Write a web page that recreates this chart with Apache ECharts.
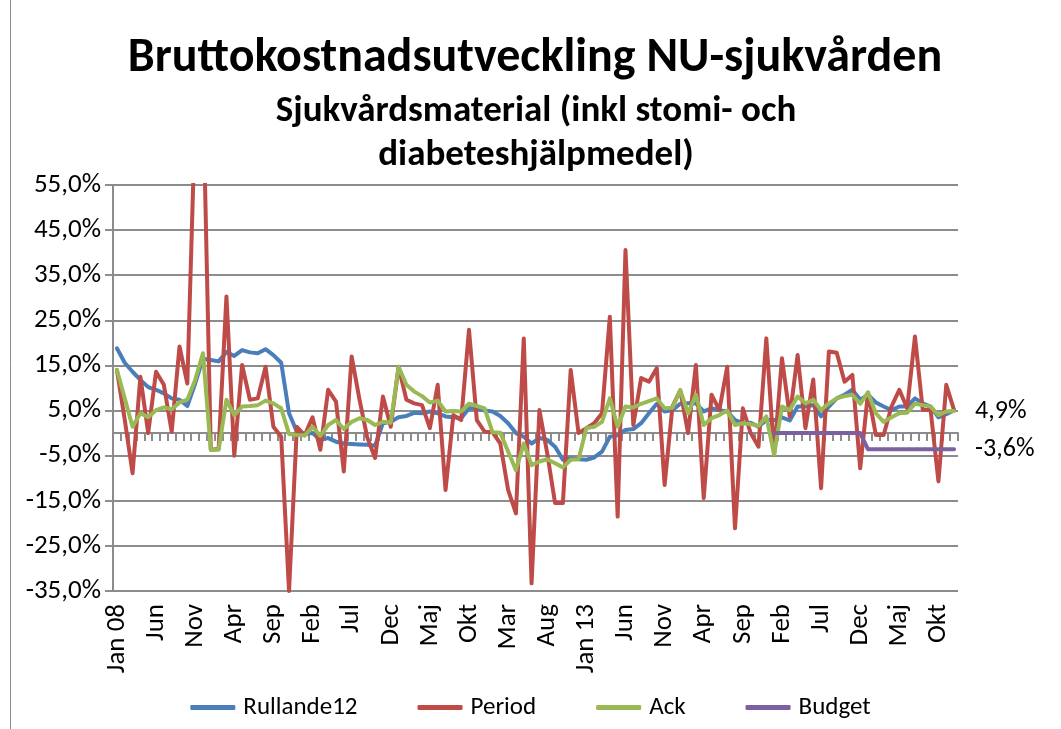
<!DOCTYPE html>
<html>
<head>
<meta charset="utf-8">
<script src="https://cdn.jsdelivr.net/npm/echarts@6/dist/echarts.min.js"></script>
<style>
    html, body { margin: 0; padding: 0; background: #fff; }
    #chart { width: 1061px; height: 729px; }
</style>
</head>
<body>
<div id="chart"></div>
<script>
// Monthly series Jan 2008 - Dec 2016, values in percent
const MONTHS = ['Jan', 'Feb', 'Mar', 'Apr', 'Maj', 'Jun', 'Jul', 'Aug', 'Sep', 'Okt', 'Nov', 'Dec'];
const YEARS = ['08', '09', '10', '11', '12', '13', '14', '15', '16'];

const rullande12 = [
    18.8, 15.6, 13.6, 11.8, 10.2, 9.6, 8.8, 7.7, 7.4, 6.0, 11.0, 16.5,
    16.2, 15.9, 18.0, 17.1, 18.4, 17.9, 17.7, 18.6, 17.3, 15.6, 4.4, 0.3,
    -0.2, 0.0, -1.5, -1.1, -1.9, -2.3, -2.4, -2.5, -2.6, -2.8, 2.2, 2.5,
    3.5, 3.8, 4.5, 4.4, 4.8, 4.4, 3.7, 3.5, 3.3, 5.5, 5.5, 5.0,
    4.8, 3.8, 2.2, 0.0, -0.8, -2.3, -1.1, -1.5, -3.0, -5.9, -5.6, -5.8,
    -5.9, -5.4, -4.1, -0.8, -0.5, 0.7, 0.9, 2.2, 4.4, 6.5, 4.8, 5.1,
    6.5, 6.6, 6.6, 4.8, 5.5, 5.1, 4.8, 2.9, 2.2, 2.3, 1.4, 2.9,
    2.9, 3.5, 2.8, 5.9, 5.9, 6.2, 3.7, 5.9, 7.7, 8.5, 9.6, 7.4,
    8.5, 6.8, 5.9, 5.1, 5.9, 5.9, 7.7, 6.6, 5.9, 3.5, 4.2, 5.1
];

const period = [
    14.0, 3.0, -8.9, 12.5, 0.0, 13.6, 10.7, 0.3, 19.2, 11.0, 70.0, 76.0,
    -3.7, -3.5, 30.3, -5.0, 15.1, 7.4, 7.7, 14.7, 1.4, -0.8, -35.0, 1.4,
    -0.5, 3.5, -3.7, 9.6, 7.0, -8.5, 17.0, 7.5, -1.0, -5.5, 8.1, 1.4,
    14.7, 7.4, 6.6, 6.2, 1.1, 10.7, -12.6, 4.0, 2.9, 22.9, 2.9, 0.3,
    0.2, -2.3, -12.6, -17.8, 21.0, -33.3, 5.1, -4.5, -15.5, -15.5, 14.0, 0.0,
    1.1, 2.2, 4.4, 25.8, -18.5, 40.6, 1.8, 12.2, 11.4, 14.4, -11.5, 5.9,
    9.5, 0.0, 15.1, -14.4, 8.5, 5.1, 14.7, -21.1, 5.5, 0.0, -3.0, 21.0,
    -4.8, 16.6, 3.7, 17.3, 1.1, 11.9, -12.2, 18.1, 17.8, 11.4, 12.9, -7.8,
    9.0, -0.4, -0.4, 5.9, 9.6, 5.5, 21.4, 5.1, 5.1, -10.7, 10.7, 5.1
];

const ack = [
    14.0, 7.7, 1.4, 4.4, 3.5, 5.1, 5.7, 5.3, 6.8, 7.4, 11.8, 17.7,
    -3.7, -3.7, 7.4, 4.0, 5.9, 6.0, 6.2, 7.2, 6.6, 5.5, -0.2, -0.4,
    -0.5, 1.4, -0.6, 1.8, 2.9, 0.9, 2.5, 3.3, 2.9, 1.8, 2.5, 2.3,
    14.7, 10.7, 9.2, 8.2, 6.8, 7.2, 4.8, 4.9, 4.8, 6.5, 6.0, 5.5,
    0.2, 0.1, -4.1, -8.2, -2.3, -7.1, -6.3, -5.8, -6.7, -7.6, -5.9, -5.8,
    1.1, 1.4, 2.5, 7.7, 1.4, 5.9, 5.7, 6.5, 7.1, 7.7, 5.5, 5.6,
    9.5, 4.4, 8.5, 1.8, 3.3, 4.0, 5.0, 1.8, 2.2, 2.0, 1.6, 3.7,
    -4.8, 5.9, 5.1, 8.1, 6.6, 7.4, 5.1, 6.6, 7.7, 8.2, 8.5, 6.5,
    9.0, 4.4, 2.5, 3.5, 4.4, 4.5, 6.5, 6.2, 5.9, 4.0, 4.8, 4.9
];

// Budget only exists from Jan 2015
const budget = Array(84).fill(null).concat([
    0, 0, 0, 0, 0, 0, 0, 0, 0, 0, 0, 0,
    -3.6, -3.6, -3.6, -3.6, -3.6, -3.6, -3.6, -3.6, -3.6, -3.6, -3.6, -3.6
]);

const categories = [];
for (const y of YEARS) {
    for (const m of MONTHS) categories.push(m === 'Jan' ? m + ' ' + y : m);
}

const FONT = 'Carlito, Lato, sans-serif';
const COLORS = {
    rullande: '#4a7ebb',
    period: '#be4b48',
    ack: '#98b954',
    budget: '#7d60a0',
    grid: '#8c8c8c',
    text: '#000000',
};

const pct = v => v.toFixed(1).replace('.', ',') + '%';

function lineSeries(name, data, color, withEndLabel) {
    return {
        name,
        type: 'line',
        data,
        symbol: 'none',
        connectNulls: false,
        lineStyle: { width: 4, color, join: 'round', cap: 'round' },
        itemStyle: { color },
        endLabel: {
            show: !!withEndLabel,
            distance: 21,
            formatter: p => pct(p.value),
            color: COLORS.text,
            fontSize: 26,
            fontFamily: FONT,
        },
        xAxisIndex: 0,
        yAxisIndex: 0,
        animation: false,
    };
}

const chart = echarts.init(document.getElementById('chart'), null, { renderer: 'canvas' });
chart.setOption({
    backgroundColor: '#fff',
    animation: false,
    textStyle: { fontFamily: FONT, color: COLORS.text },
    title: [
        {
            text: 'Bruttokostnadsutveckling NU-sjukvården',
            left: 530, top: 30, textAlign: 'center',
            textStyle: { fontSize: 48, fontWeight: 'bold', color: COLORS.text, fontFamily: FONT },
        },
        {
            text: 'Sjukvårdsmaterial (inkl stomi- och\ndiabeteshjälpmedel)',
            left: 531, top: 85, textAlign: 'center',
            textStyle: { fontSize: 37, fontWeight: 'bold', lineHeight: 44, color: COLORS.text, fontFamily: FONT },
        },
    ],
    legend: {
        data: ['Rullande12', 'Period', 'Ack', 'Budget'],
        top: 690,
        left: 'center',
        icon: 'roundRect',
        itemWidth: 45,
        itemHeight: 5,
        itemGap: 60,
        textStyle: { fontSize: 25, color: COLORS.text, fontFamily: FONT, padding: [0, 0, 0, 3] },
    },
    graphic: [
        { type: 'line', shape: { x1: 10.5, y1: 0, x2: 10.5, y2: 729 }, style: { stroke: '#8c8c8c', lineWidth: 1 } },
    ],
    grid: { left: 113, top: 185, width: 845, height: 406, containLabel: false },
    xAxis: [
        {
            type: 'category',
            data: categories,
            boundaryGap: true,
            position: 'bottom',
            axisLine: { show: false, onZero: false },
            axisTick: { show: false },
            axisLabel: { interval: 4, rotate: 90, margin: 13, fontSize: 27, color: COLORS.text, fontFamily: FONT },
        },
        {
            type: 'category',
            data: categories,
            boundaryGap: true,
            position: 'top',
            axisLine: { show: true, onZero: true, lineStyle: { color: COLORS.grid, width: 2 } },
            axisTick: { show: true, inside: true, interval: 0, length: 8, lineStyle: { color: COLORS.grid, width: 2 } },
            axisLabel: { show: false },
        },
    ],
    yAxis: {
        type: 'value',
        min: -35,
        max: 55,
        interval: 10,
        axisLine: { show: true, lineStyle: { color: COLORS.grid, width: 2 } },
        axisTick: { show: true, length: 8, lineStyle: { color: COLORS.grid, width: 2 } },
        splitLine: { show: true, lineStyle: { color: COLORS.grid, width: 2 } },
        axisLabel: { margin: 12, fontSize: 27, color: COLORS.text, fontFamily: FONT, formatter: v => pct(v) },
    },
    series: [
        lineSeries('Rullande12', rullande12, COLORS.rullande),
        lineSeries('Period', period, COLORS.period),
        lineSeries('Ack', ack, COLORS.ack, true),
        lineSeries('Budget', budget, COLORS.budget, true),
    ],
});
</script>
</body>
</html>
